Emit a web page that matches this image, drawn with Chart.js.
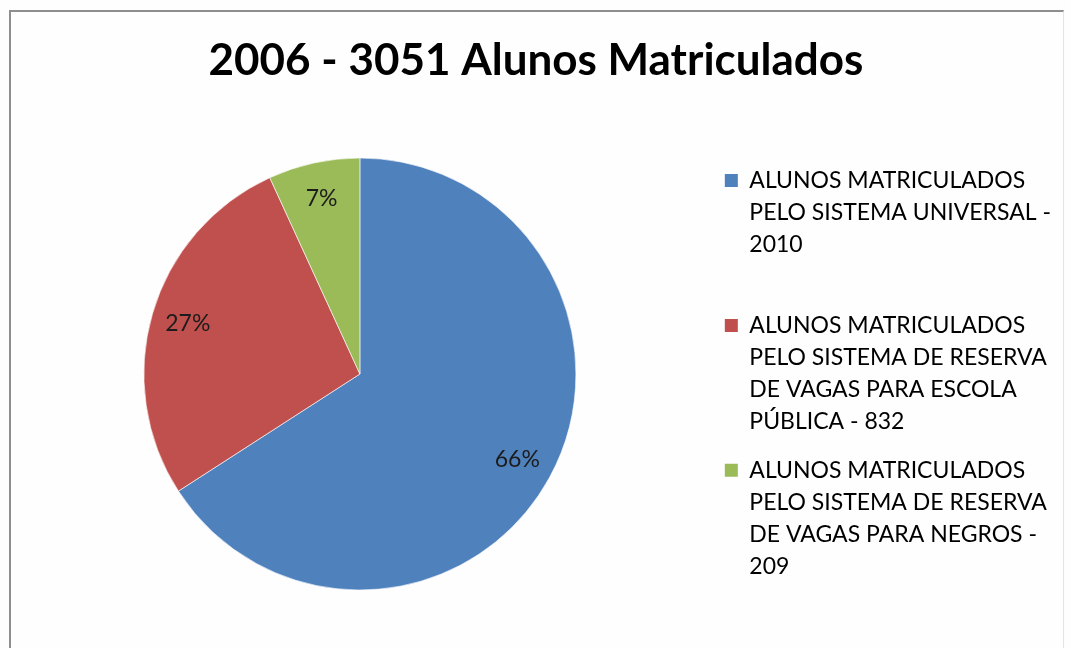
<!DOCTYPE html>
<html>
<head>
<meta charset="utf-8">
<script src="https://cdn.jsdelivr.net/npm/chart.js@4.4.1/dist/chart.umd.min.js"></script>
<style>
  html, body { margin: 0; padding: 0; background: #fefefe; }
  body { width: 1071px; height: 648px; position: relative; overflow: hidden; }
  /* moldura cinza do gráfico (sem borda inferior, cortada na imagem) */
  .frame {
    position: absolute; left: 9px; top: 10px; width: 1052px; height: 700px;
    border-left: 2px solid #8e8e8e; border-top: 2px solid #8e8e8e; border-right: 1px solid #e4e4e4;
  }
  #chart { position: absolute; left: 0; top: 0; }
</style>
</head>
<body>
<div class="frame"></div>
<canvas id="chart" width="1071" height="648"></canvas>
<script>
// dados
const titleText = "2006 - 3051 Alunos Matriculados";
const categories = [
    ["ALUNOS MATRICULADOS", "PELO SISTEMA UNIVERSAL -", "2010"],
    ["ALUNOS MATRICULADOS", "PELO SISTEMA DE RESERVA", "DE VAGAS PARA ESCOLA", "PÚBLICA - 832"],
    ["ALUNOS MATRICULADOS", "PELO SISTEMA DE RESERVA", "DE VAGAS PARA NEGROS -", "209"]
];
const alunos = [2010, 832, 209];
const colors = ["#4f81bd", "#c0504d", "#9bbb59"];

const total = alunos.reduce((a, b) => a + b, 0);

// rótulos de porcentagem dentro das fatias
const percentLabels = {
    id: "percentLabels",
    afterDatasetsDraw(chart) {
        const ctx = chart.ctx;
        const meta = chart.getDatasetMeta(0);
        ctx.save();
        ctx.font = "23px Lato";
        ctx.fillStyle = "#1c1c1c";
        ctx.textAlign = "center";
        ctx.textBaseline = "middle";
        meta.data.forEach((arc, i) => {
            const mid = (arc.startAngle + arc.endAngle) / 2;
            const r = arc.outerRadius * 0.83;
            const pct = Math.round(alunos[i] / total * 100) + "%";
            ctx.fillText(pct, arc.x + Math.cos(mid) * r, arc.y + Math.sin(mid) * r);
        });
        ctx.restore();
    }
};

new Chart(document.getElementById("chart"), {
    type: "pie",
    data: {
        labels: categories,
        datasets: [{
            data: alunos,
            backgroundColor: colors,
            borderColor: "rgba(255,255,255,0.6)",
            borderWidth: 1,
            hoverOffset: 0
        }]
    },
    options: {
        responsive: false,
        devicePixelRatio: 1,
        animation: false,
        radius: 216,
        layout: { padding: { left: 11, right: 10, top: 0, bottom: 44.5 } },
        plugins: {
            title: {
                display: true,
                text: titleText,
                color: "#000",
                font: { family: "Lato", size: 44, weight: "bold" },
                padding: { top: 34, bottom: 57.7 }
            },
            legend: {
                position: "right",
                align: "end",
                labels: {
                    color: "#3a3a3a",
                    font: { family: "Lato", size: 23, lineHeight: 1.4 },
                    boxWidth: 13,
                    boxHeight: 13,
                    padding: 16,
                    generateLabels(chart) {
                        // todas as entradas ocupam 4 linhas, como no original
                        return categories.map((lines, i) => ({
                            text: lines.concat(Array(4 - lines.length).fill("")),
                            fillStyle: colors[i],
                            strokeStyle: colors[i],
                            lineWidth: 0,
                            index: i
                        }));
                    }
                }
            },
            tooltip: { enabled: false }
        }
    },
    plugins: [percentLabels]
});
</script>
</body>
</html>
